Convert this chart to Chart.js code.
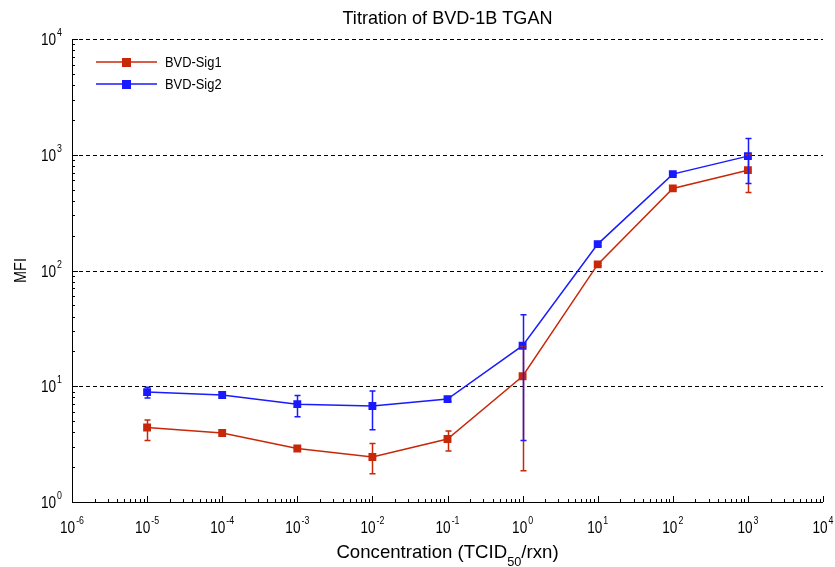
<!DOCTYPE html>
<html>
<head>
<meta charset="utf-8">
<script src="https://cdn.jsdelivr.net/npm/chart.js@4"></script>
<style>
  html, body { margin: 0; padding: 0; background: #fff; }
  #wrap { width: 835px; height: 567px; }
</style>
</head>
<body>
<div id="wrap"><canvas id="chart" width="835" height="567"></canvas></div>
<script>
// Data
const concentrations = [1e-5, 1e-4, 1e-3, 1e-2, 1e-1, 1e0, 1e1, 1e2, 1e3];
const sig1 = [4.4, 3.95, 2.9, 2.45, 3.5, 12.2, 113, 512, 736];
const sig1Lo = [3.4, 3.85, 2.82, 1.75, 2.76, 1.86, 110, 500, 472];
const sig1Hi = [5.1, 4.05, 3.0, 3.2, 4.1, 22, 116, 525, 1000];
const sig2 = [8.9, 8.4, 7.0, 6.75, 7.75, 22.4, 169, 680, 973];
const sig2Lo = [7.9, 7.9, 5.45, 4.2, 7.4, 3.4, 164, 665, 565];
const sig2Hi = [9.8, 8.9, 8.3, 9.1, 8.1, 41.4, 174, 695, 1383];
const xDecades = [-6, -5, -4, -3, -2, -1, 0, 1, 2, 3, 4];
const yDecades = [0, 1, 2, 3, 4];

const RED = '#c8280a';
const BLUE = '#1a1aff';
const FONT = '"Liberation Sans", Arial, sans-serif';

const pts = (ys) => concentrations.map((x, i) => ({ x: x, y: ys[i] }));

// text drawn a bit narrow, like the reference
function txt(ctx, s, x, y, size, sx, align) {
  ctx.save();
  ctx.font = size + 'px ' + FONT;
  const w = ctx.measureText(s).width * sx;
  const left = align === 'center' ? x - w / 2 : align === 'right' ? x - w : x;
  ctx.translate(left, y);
  ctx.scale(sx, 1);
  ctx.textAlign = 'left';
  ctx.textBaseline = 'alphabetic';
  ctx.fillText(s, 0, 0);
  ctx.restore();
  return w;
}
function measure(ctx, s, size, sx) {
  ctx.font = size + 'px ' + FONT;
  return ctx.measureText(s).width * sx;
}

// "10^n"
function drawPow(ctx, n, x, y, align) {
  const bw = measure(ctx, '10', 17, 0.8);
  const ew = measure(ctx, String(n), 11, 0.8);
  const total = bw + ew + 1;
  const left = align === 'right' ? x - total : x - total / 2;
  txt(ctx, '10', left, y, 17, 0.8, 'left');
  txt(ctx, String(n), left + bw + 1, y - 9, 11, 0.8, 'left');
}

const framePlugin = {
  id: 'frame',
  beforeDatasetsDraw(chart) {
    const { ctx, chartArea: a, scales: { x, y } } = chart;
    ctx.save();
    ctx.strokeStyle = '#000';
    ctx.lineWidth = 1;
    // dashed horizontal grid
    ctx.setLineDash([4, 3]);
    yDecades.slice(1).forEach(d => {
      const py = Math.round(y.getPixelForValue(Math.pow(10, d))) + 0.5;
      ctx.beginPath();
      ctx.moveTo(a.left, py);
      ctx.lineTo(a.right, py);
      ctx.stroke();
    });
    ctx.setLineDash([]);
    // axes
    ctx.beginPath();
    ctx.moveTo(a.left + 0.5, a.top);
    ctx.lineTo(a.left + 0.5, a.bottom + 0.5);
    ctx.lineTo(a.right, a.bottom + 0.5);
    ctx.stroke();
    // x ticks (inward)
    ctx.beginPath();
    xDecades.forEach((d, i) => {
      const px = Math.round(x.getPixelForValue(Math.pow(10, d))) + 0.5;
      ctx.moveTo(px, a.bottom);
      ctx.lineTo(px, a.bottom - 6);
      if (i < xDecades.length - 1) {
        for (let k = 2; k <= 9; k++) {
          const mx = Math.round(x.getPixelForValue(k * Math.pow(10, d))) + 0.5;
          ctx.moveTo(mx, a.bottom);
          ctx.lineTo(mx, a.bottom - 3);
        }
      }
    });
    // y ticks (inward)
    yDecades.forEach((d, i) => {
      const py = Math.round(y.getPixelForValue(Math.pow(10, d))) + 0.5;
      ctx.moveTo(a.left, py);
      ctx.lineTo(a.left + 6, py);
      if (i < yDecades.length - 1) {
        for (let k = 2; k <= 9; k++) {
          const my = Math.round(y.getPixelForValue(k * Math.pow(10, d))) + 0.5;
          ctx.moveTo(a.left, my);
          ctx.lineTo(a.left + 3, my);
        }
      }
    });
    ctx.stroke();

    // tick labels
    ctx.fillStyle = '#000';
    xDecades.forEach(d => {
      drawPow(ctx, d, x.getPixelForValue(Math.pow(10, d)), a.bottom + 31, 'center');
    });
    yDecades.forEach(d => {
      drawPow(ctx, d, a.left - 10, y.getPixelForValue(Math.pow(10, d)) + 6, 'right');
    });

    const cx = (a.left + a.right) / 2;
    // title
    txt(ctx, 'Titration of BVD-1B TGAN', cx, 24, 19, 0.95, 'center');

    // x axis title with subscript
    const p1 = 'Concentration (TCID', p2 = '50', p3 = '/rxn)';
    const w1 = measure(ctx, p1, 19, 0.98), w2 = measure(ctx, p2, 13, 0.98), w3 = measure(ctx, p3, 19, 0.98);
    const lx = cx - (w1 + w2 + w3) / 2;
    txt(ctx, p1, lx, 558, 19, 0.98, 'left');
    txt(ctx, p2, lx + w1, 566, 13, 0.98, 'left');
    txt(ctx, p3, lx + w1 + w2, 558, 19, 0.98, 'left');

    // y axis title
    ctx.save();
    ctx.translate(26, (a.top + a.bottom) / 2);
    ctx.rotate(-Math.PI / 2);
    txt(ctx, 'MFI', 0, 0, 17, 0.85, 'center');
    ctx.restore();
    ctx.restore();
  },
  afterDatasetsDraw(chart) {
    const { ctx, scales: { x, y } } = chart;
    ctx.save();
    // error bars
    [[sig1Lo, sig1Hi, RED], [sig2Lo, sig2Hi, BLUE]].forEach(([lo, hi, c]) => {
      ctx.strokeStyle = c;
      ctx.lineWidth = 1.5;
      ctx.beginPath();
      concentrations.forEach((cv, i) => {
        const px = Math.round(x.getPixelForValue(cv)) + 0.5;
        const p0 = y.getPixelForValue(lo[i]);
        const p1 = y.getPixelForValue(hi[i]);
        ctx.moveTo(px, p0); ctx.lineTo(px, p1);
        ctx.moveTo(px - 3, p0); ctx.lineTo(px + 3, p0);
        ctx.moveTo(px - 3, p1); ctx.lineTo(px + 3, p1);
      });
      ctx.stroke();
    });
    // legend
    const items = [['BVD-Sig1', RED, 62], ['BVD-Sig2', BLUE, 84]];
    items.forEach(([label, c, ly]) => {
      ctx.strokeStyle = c;
      ctx.fillStyle = c;
      ctx.lineWidth = 1.5;
      ctx.beginPath();
      ctx.moveTo(96, ly); ctx.lineTo(157, ly);
      ctx.stroke();
      ctx.fillRect(122, ly - 4, 9, 9);
      ctx.fillStyle = '#000';
      txt(ctx, label, 165, ly + 5, 14, 0.92, 'left');
    });
    ctx.restore();
  }
};

new Chart(document.getElementById('chart'), {
  type: 'line',
  data: {
    datasets: [
      {
        label: 'BVD-Sig1',
        data: pts(sig1),
        borderColor: RED,
        backgroundColor: RED,
        borderWidth: 1.5,
        pointStyle: 'rect',
        pointRadius: 4.5,
        tension: 0
      },
      {
        label: 'BVD-Sig2',
        data: pts(sig2),
        borderColor: BLUE,
        backgroundColor: BLUE,
        borderWidth: 1.5,
        pointStyle: 'rect',
        pointRadius: 4.5,
        tension: 0
      }
    ]
  },
  options: {
    responsive: false,
    animation: false,
    layout: { padding: { left: 72, top: 39, right: 12, bottom: 65 } },
    scales: {
      x: { type: 'logarithmic', min: 1e-6, max: 1e4, display: false },
      y: { type: 'logarithmic', min: 1, max: 1e4, display: false }
    },
    plugins: { legend: { display: false }, tooltip: { enabled: false } }
  },
  plugins: [framePlugin]
});
</script>
</body>
</html>
